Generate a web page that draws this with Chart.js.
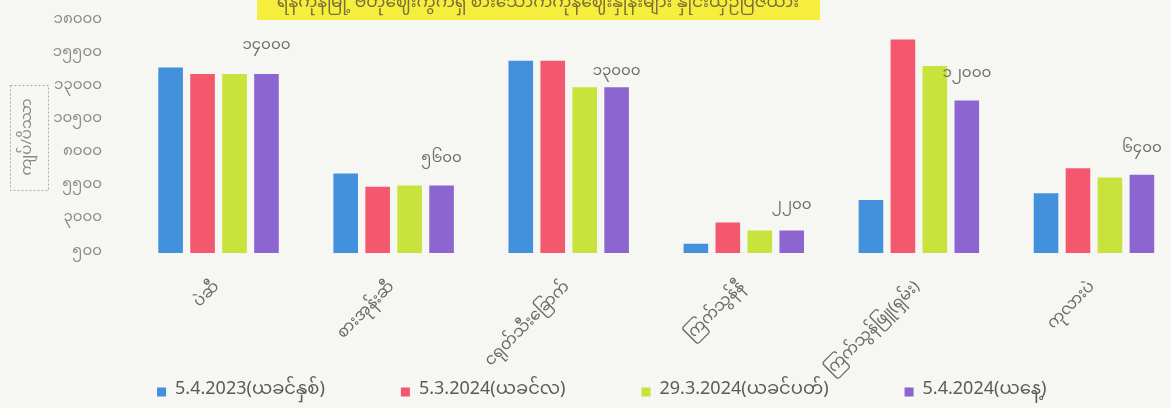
<!DOCTYPE html>
<html>
<head>
<meta charset="utf-8">
<title>ဈေးနှုန်း နှိုင်းယှဉ်ချက်</title>
<script src="https://cdn.jsdelivr.net/npm/chart.js@4.4.1/dist/chart.umd.min.js"></script>
<style>
  html, body { margin: 0; padding: 0; background: #f6f6f3; overflow: hidden; }
  #wrap { position: relative; width: 1200px; height: 408px; }
</style>
</head>
<body>
<div id="wrap"><canvas id="priceChart"></canvas></div>
<script>
// data (kyat per viss)
const categories = ['ပဲဆီ', 'စားအုန်းဆီ', 'ငရုတ်သီးခြောက်', 'ကြက်သွန်နီ', 'ကြက်သွန်ဖြူ(ရှမ်း)', 'ကုလားပဲ'];
const seriesNames = ['5.4.2023(ယခင်နှစ်)', '5.3.2024(ယခင်လ)', '29.3.2024(ယခင်ပတ်)', '5.4.2024(ယနေ့)'];
const lastYear = [14500, 6500, 15000, 1200, 4500, 5000];
const lastMonth = [14000, 5500, 15000, 2800, 16600, 6900];
const lastWeek = [14000, 5600, 13000, 2200, 14600, 6200];
const today = [14000, 5600, 13000, 2200, 12000, 6400];
const todayLabels = ['၁၄၀၀၀', '၅၆၀၀', '၁၃၀၀၀', '၂၂၀၀', '၁၂၀၀၀', '၆၄၀၀'];
const yTickLabels = ['၅၀၀', '၃၀၀၀', '၅၅၀၀', '၈၀၀၀', '၁၀၅၀၀', '၁၃၀၀၀', '၁၅၅၀၀', '၁၈၀၀၀'];
const yTitle = 'ကျပ်/ပိဿာ';
const chartTitle = 'ရန်ကုန်မြို့ ဗဟိုဈေးကွက်ရှိ စားသောက်ကုန်ဈေးနှုန်းများ နှိုင်းယှဉ်ပြဇယား';

const colors = ['#4390dc', '#f4586f', '#c7e33c', '#8c65d1'];
const fontFamily = '"Noto Sans Myanmar", "Padauk", "Myanmar Text", "Noto Sans", sans-serif';

// offsets of the value labels above today's bars
const labelLift = [27, 25, 14, 23, 25, 24];

// title band, y title box, value labels
const decorations = {
  id: 'decorations',
  beforeDraw(chart) {
    const ctx = chart.ctx;
    ctx.save();
    ctx.fillStyle = '#f6f6f3';
    ctx.fillRect(0, 0, chart.width, chart.height);

    ctx.fillStyle = '#f6ee3c';
    ctx.fillRect(257, -14, 563, 34);
    ctx.fillStyle = '#7b6f3c';
    ctx.font = '17px ' + fontFamily;
    ctx.textAlign = 'center';
    ctx.textBaseline = 'alphabetic';
    ctx.fillText(chartTitle, 538, 7);

    ctx.strokeStyle = '#a8a8a8';
    ctx.lineWidth = 1;
    ctx.setLineDash([2, 2]);
    ctx.strokeRect(10.5, 85.5, 38, 105);
    ctx.setLineDash([]);
    ctx.translate(29, 137);
    ctx.rotate(-Math.PI / 2);
    ctx.fillStyle = '#8a8a8a';
    ctx.font = '15px ' + fontFamily;
    ctx.textAlign = 'center';
    ctx.textBaseline = 'middle';
    ctx.fillText(yTitle, 0, 0);
    ctx.restore();
  },
  afterDatasetsDraw(chart) {
    const ctx = chart.ctx;
    const meta = chart.getDatasetMeta(3);
    ctx.save();
    ctx.fillStyle = '#6e6e6e';
    ctx.font = '15px ' + fontFamily;
    ctx.textAlign = 'center';
    ctx.textBaseline = 'middle';
    meta.data.forEach((bar, i) => {
      ctx.fillText(todayLabels[i], bar.x, bar.y - labelLift[i]);
    });
    ctx.restore();
  }
};

const ctx = document.getElementById('priceChart').getContext('2d');
const chart = new Chart(ctx, {
  type: 'bar',
  data: {
    labels: categories,
    datasets: [lastYear, lastMonth, lastWeek, today].map((values, i) => ({
      label: seriesNames[i],
      data: values,
      backgroundColor: colors[i],
      borderWidth: 0,
      categoryPercentage: 0.73,
      barPercentage: 0.77
    }))
  },
  options: {
    responsive: true,
    maintainAspectRatio: false,
    animation: false,
    layout: { padding: { left: 22, right: 18.5, top: 21, bottom: -3 } },
    plugins: {
      title: { display: false },
      tooltip: { enabled: false },
      legend: {
        position: 'bottom',
        labels: {
          boxWidth: 9,
          boxHeight: 9,
          padding: 76,
          color: '#5a5a5a',
          font: { family: fontFamily, size: 18 }
        }
      }
    },
    scales: {
      x: {
        grid: { display: false },
        border: { display: false },
        ticks: {
          minRotation: 45,
          maxRotation: 45,
          padding: 18,
          color: '#6a6a6a',
          font: { family: fontFamily, size: 16 }
        },
        afterFit(scale) {
          const legend = scale.chart.legend;
          scale.height = 158 - (legend ? legend.height : 0);
          // the rotated names run down into the legend band, so don't clip them to the axis box
          scale._computeLabelArea = () => null;
        }
      },
      y: {
        min: 500,
        max: 18000,
        grid: { display: false },
        border: { display: false },
        ticks: {
          stepSize: 2500,
          padding: 21,
          color: '#8c8c8c',
          font: { family: fontFamily, size: 15 },
          callback: (value, index) => yTickLabels[index]
        },
        afterFit(scale) {
          scale.width = 109;
          scale.paddingTop = 0;
          scale.paddingBottom = 0;
        }
      }
    }
  },
  plugins: [decorations]
});
</script>
</body>
</html>
